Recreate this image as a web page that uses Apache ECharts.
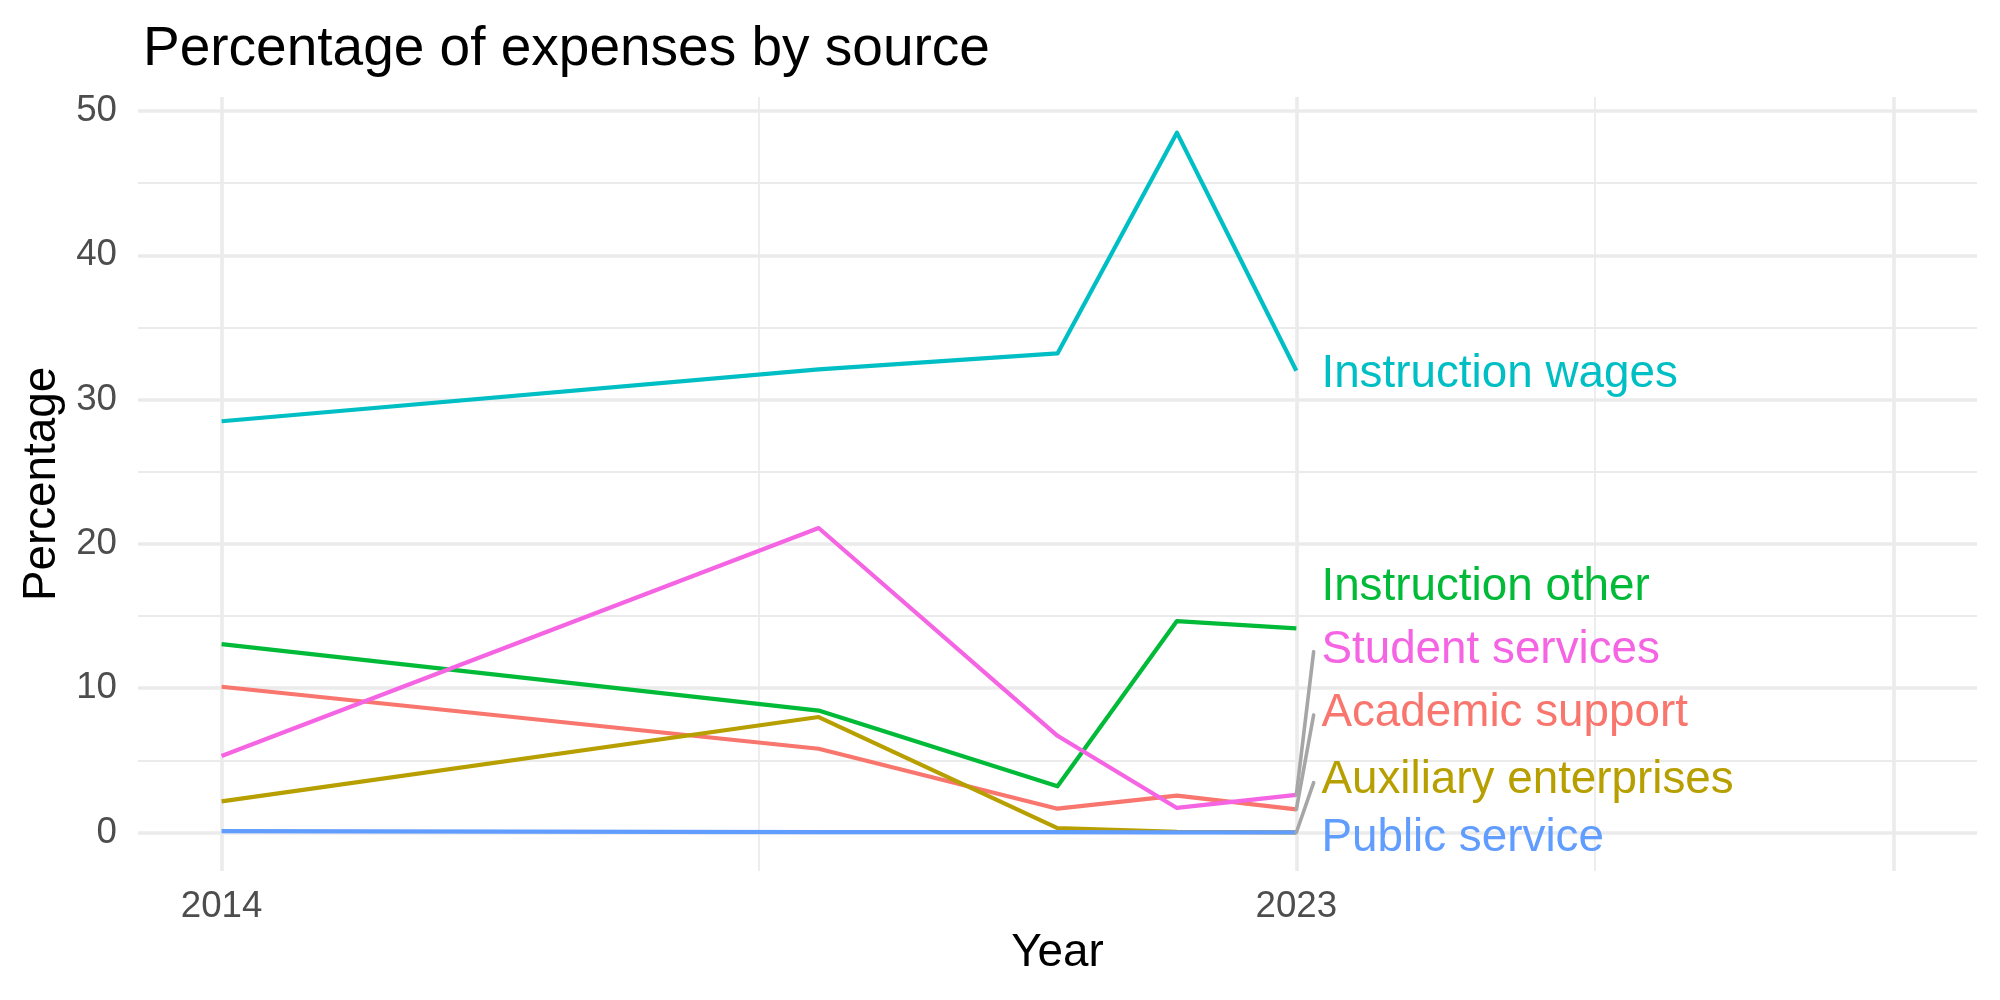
<!DOCTYPE html>
<html>
<head>
<meta charset="utf-8">
<script src="https://cdn.jsdelivr.net/npm/echarts@6/dist/echarts.min.js"></script>
<style>
  html, body { margin: 0; padding: 0; background: #fff; }
  #chart { width: 2000px; height: 1000px; }
</style>
</head>
<body>
<div id="chart"></div>
<script>
// data
var years = [2014, 2019, 2021, 2022, 2023];
var seriesNames = ['Academic support', 'Auxiliary enterprises', 'Instruction other',
                   'Instruction wages', 'Public service', 'Student services'];
var academicSupport = [10.1, 5.8, 1.65, 2.55, 1.6];
var auxiliaryEnterprises = [2.15, 8.0, 0.3, 0.05, 0.0];
var instructionOther = [13.05, 8.45, 3.2, 14.65, 14.15];
var instructionWages = [28.5, 32.1, 33.2, 48.5, 32.0];
var publicService = [0.1, 0.03, 0.02, 0.01, 0.0];
var studentServices = [5.3, 21.1, 6.7, 1.7, 2.6];
var colors = ['#F8766D', '#B79F00', '#00BA38', '#00BFC4', '#619CFF', '#F564E3'];

// repelled end labels (year, value) and their leader segment ends
var labelX = 2023.21;
var labelY = [8.26, 3.62, 16.97, 31.73, -0.43, 12.65];
var segmentEndX = 2023.145;
var segmentEndY = [8.14, 3.45, null, null, null, 12.53];

var xTicks = [2014, 2023];
var xMajorGrid = [2014, 2023, 2028];
var xMinorGrid = [2018.5, 2025.5];
var yTicks = [0, 10, 20, 30, 40, 50];
var yMinorGrid = [5, 15, 25, 35, 45];

var allValues = [academicSupport, auxiliaryEnterprises, instructionOther,
                 instructionWages, publicService, studentServices];

var myChart = echarts.init(document.getElementById('chart'), null, { renderer: 'canvas' });

var series = [];
// grid lines, drawn behind everything (markLine z defaults to 5, so force it down)
var gridLines = [];
xMajorGrid.forEach(function (v) { gridLines.push({ xAxis: v, lineStyle: { width: 3.6 } }); });
xMinorGrid.forEach(function (v) { gridLines.push({ xAxis: v, lineStyle: { width: 1.8 } }); });
yTicks.forEach(function (v) { gridLines.push({ yAxis: v, lineStyle: { width: 3.6 } }); });
yMinorGrid.forEach(function (v) { gridLines.push({ yAxis: v, lineStyle: { width: 1.8 } }); });
series.push({
    type: 'line',
    data: [],
    z: 0,
    silent: true,
    markLine: {
        z: 0,
        silent: true,
        animation: false,
        symbol: 'none',
        label: { show: false },
        emphasis: { disabled: true },
        lineStyle: { color: '#EBEBEB', type: 'solid' },
        data: gridLines
    }
});

for (var i = 0; i < seriesNames.length; i++) {
    var pts = [];
    for (var j = 0; j < years.length; j++) {
        pts.push([years[j], allValues[i][j]]);
    }
    series.push({
        name: seriesNames[i],
        type: 'line',
        data: pts,
        showSymbol: false,
        symbol: 'none',
        z: 3,
        emphasis: { disabled: true },
        lineStyle: { color: colors[i], width: 4.2, join: 'round' },
        itemStyle: { color: colors[i] }
    });
}

// leader segments
var segs = [];
for (var i = 0; i < seriesNames.length; i++) {
    if (segmentEndY[i] == null) continue;
    segs.push({ coords: [[2023, allValues[i][4]], [segmentEndX, segmentEndY[i]]] });
}
series.push({
    type: 'lines',
    coordinateSystem: 'cartesian2d',
    z: 4,
    silent: true,
    lineStyle: { color: '#A6A6A6', width: 3.6, opacity: 1, cap: 'round' },
    data: segs
});

// labels
var labelData = [];
for (var i = 0; i < seriesNames.length; i++) {
    labelData.push({
        value: [labelX, labelY[i]],
        name: seriesNames[i],
        label: { color: colors[i] }
    });
}
series.push({
    type: 'scatter',
    symbolSize: 0,
    z: 5,
    silent: true,
    itemStyle: { opacity: 1 },
    data: labelData,
    label: {
        show: true,
        position: 'right',
        distance: 0,
        opacity: 1,
        formatter: '{b}',
        fontSize: 45.8,
        fontFamily: 'Liberation Sans'
    }
});

var option = {
    animation: false,
    backgroundColor: '#ffffff',
    textStyle: { fontFamily: 'Liberation Sans' },
    title: {
        text: 'Percentage of expenses by source',
        left: 138,
        top: 17,
        textStyle: { fontSize: 55, fontWeight: 'normal', color: '#000000', fontFamily: 'Liberation Sans' }
    },
    grid: { left: 138, right: 23, top: 97, bottom: 129 },
    xAxis: {
        type: 'value',
        min: 2013.3,
        max: 2028.7,
        name: 'Year',
        nameLocation: 'middle',
        nameGap: 59,
        nameTextStyle: { fontSize: 45.8, color: '#000000' },
        axisLine: { show: false },
        axisTick: { show: false },
        splitLine: { show: false },
        axisLabel: {
            customValues: xTicks,
            formatter: function (v) { return String(v); },
            fontSize: 36.7,
            color: '#4D4D4D',
            margin: 17
        }
    },
    yAxis: {
        type: 'value',
        min: -2.67,
        max: 50.97,
        name: 'Percentage',
        nameLocation: 'middle',
        nameGap: 70,
        nameRotate: 90,
        nameTextStyle: { fontSize: 45.8, color: '#000000' },
        axisLine: { show: false },
        axisTick: { show: false },
        splitLine: { show: false },
        axisLabel: {
            customValues: yTicks,
            fontSize: 36.7,
            color: '#4D4D4D',
            margin: 21
        }
    },
    series: series
};

myChart.setOption(option);
</script>
</body>
</html>
